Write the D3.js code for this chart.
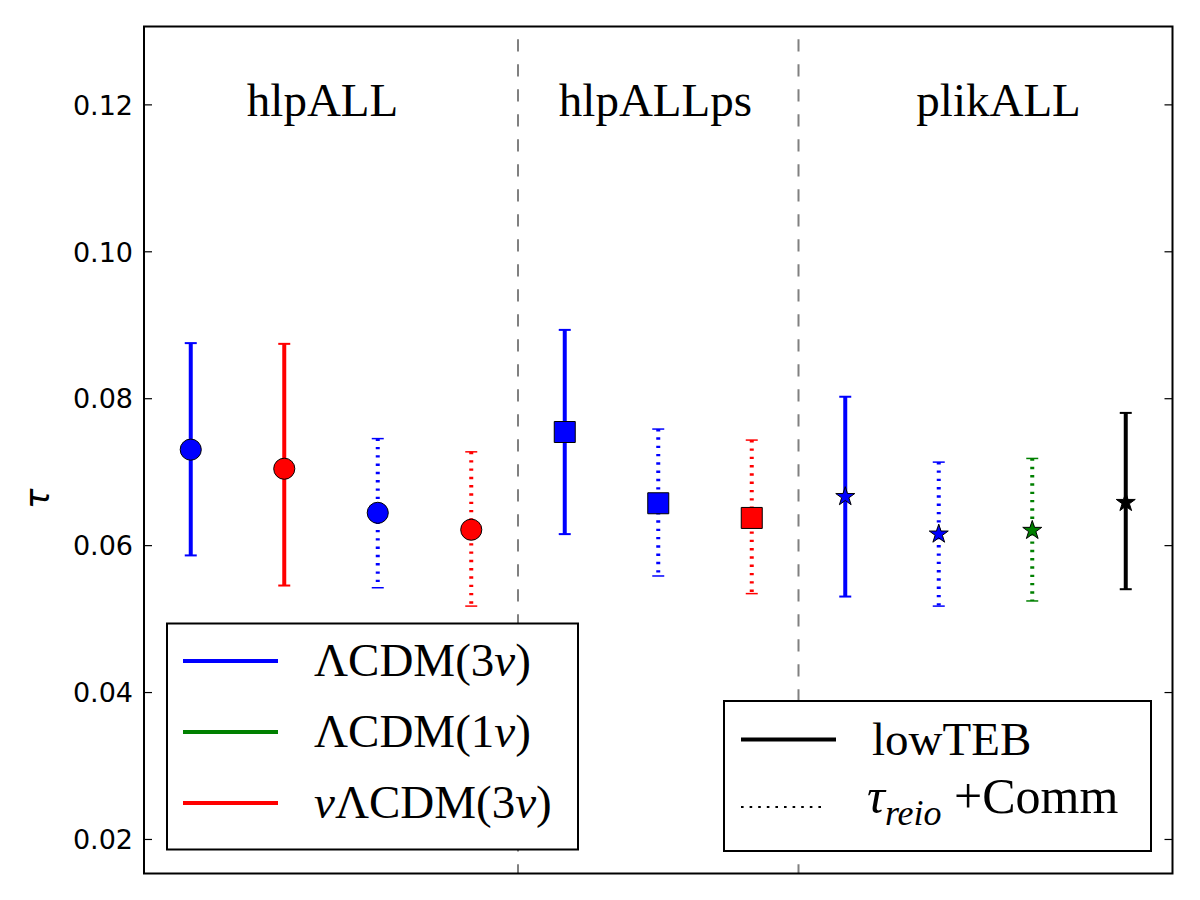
<!DOCTYPE html>
<html>
<head>
<meta charset="utf-8">
<script src="https://d3js.org/d3.v7.min.js"></script>
<style>
  body { margin: 0; background: #fff; }
  svg { display: block; }
</style>
</head>
<body>
<div id="chart"></div>
<script>
// --- data ---
var groups = ["hlpALL", "hlpALLps", "plikALL"];
var groupOf = [0, 0, 0, 0, 1, 1, 1, 2, 2, 2, 2];
var model = ["3nu", "nu3", "3nu", "nu3", "3nu", "3nu", "nu3", "3nu", "3nu", "1nu", "low"];
var likelihood = ["lowTEB", "lowTEB", "Comm", "Comm", "lowTEB", "Comm", "Comm", "lowTEB", "Comm", "Comm", "lowTEB"];
var tau = [0.0730, 0.0704, 0.0644, 0.0621, 0.0754, 0.0657, 0.0637, 0.0666, 0.0615, 0.0620, 0.0658];
var tauHigh = [0.0875, 0.0874, 0.0745, 0.0727, 0.0893, 0.0758, 0.0743, 0.0802, 0.0713, 0.0718, 0.0780];
var tauLow = [0.0586, 0.0545, 0.0542, 0.0517, 0.0615, 0.0558, 0.0534, 0.0530, 0.0517, 0.0524, 0.0540];
var yTicks = [0.02, 0.04, 0.06, 0.08, 0.10, 0.12];

var colors = { "3nu": "#0000ff", "1nu": "#008000", "nu3": "#ff0000", "low": "#000000" };
var markers = [d3.symbolCircle, d3.symbolSquare, d3.symbolStar];
var markerSize = [350, 441, 112];

var margin = { top: 26.5, right: 27.5, bottom: 26.5, left: 144 },
    width = 1200 - margin.left - margin.right,
    height = 900 - margin.top - margin.bottom;

var svg = d3.select("#chart").append("svg")
    .attr("width", 1200)
    .attr("height", 900)
    .append("g")
    .attr("transform", "translate(" + margin.left + "," + margin.top + ")");

var x = d3.scaleLinear().domain([-0.5, 10.5]).range([0, width]);
var y = d3.scaleLinear().domain([0.0153, 0.1306]).range([height, 0]);

var points = tau.map(function (t, i) {
    return { i: i, tau: t, hi: tauHigh[i], lo: tauLow[i], model: model[i],
             lik: likelihood[i], group: groupOf[i] };
});

// group separators
svg.selectAll(".sep")
    .data([3.5, 6.5])
    .enter().append("line")
    .attr("class", "sep")
    .attr("x1", function (d) { return x(d); })
    .attr("x2", function (d) { return x(d); })
    .attr("y1", 0)
    .attr("y2", height)
    .style("stroke", "#808080")
    .style("stroke-width", 2)
    .style("stroke-dasharray", "12.3,12.7")
    .style("stroke-dashoffset", 12.3);

var serif = "'Liberation Serif', 'DejaVu Serif', serif";

// group titles
svg.selectAll(".gtitle")
    .data(groups)
    .enter().append("text")
    .attr("class", "gtitle")
    .attr("x", function (d, i) { return x([1.41, 4.97, 8.64][i]); })
    .attr("y", y(0.1184))
    .attr("text-anchor", "middle")
    .style("font-family", serif)
    .style("font-size", "47px")
    .text(function (d) { return d; });

// error bars
var bars = svg.selectAll(".err")
    .data(points)
    .enter().append("g")
    .attr("class", "err")
    .style("stroke", function (d) { return colors[d.model]; });

bars.append("line")
    .attr("x1", function (d) { return x(d.i); })
    .attr("x2", function (d) { return x(d.i); })
    .attr("y1", function (d) { return y(d.hi); })
    .attr("y2", function (d) { return y(d.lo); })
    .style("stroke-width", 4)
    .style("stroke-dasharray", function (d) { return d.lik == "Comm" ? "2.4,5.9" : null; });

bars.selectAll(".cap")
    .data(function (d) { return [d.hi, d.lo].map(function (v) { return { v: v, p: d }; }); })
    .enter().append("line")
    .attr("class", "cap")
    .attr("x1", function (d) { return x(d.p.i) - 6; })
    .attr("x2", function (d) { return x(d.p.i) + 6; })
    .attr("y1", function (d) { return y(d.v); })
    .attr("y2", function (d) { return y(d.v); })
    .style("stroke-width", function (d) { return d.p.lik == "Comm" ? 1.5 : 2; });

// markers
svg.selectAll(".marker")
    .data(points)
    .enter().append("path")
    .attr("class", "marker")
    .attr("transform", function (d) { return "translate(" + x(d.i) + "," + y(d.tau) + ")"; })
    .attr("d", function (d) { return d3.symbol().type(markers[d.group]).size(markerSize[d.group])(); })
    .style("fill", function (d) { return colors[d.model]; })
    .style("stroke", "#000")
    .style("stroke-width", 1);

// axes (ticks inside, on both sides)
var yAxisL = d3.axisLeft(y).tickValues(yTicks).tickSizeInner(-8).tickSizeOuter(0)
    .tickPadding(11).tickFormat(d3.format(".2f"));
var gy = svg.append("g").attr("class", "y axis").call(yAxisL);
gy.select(".domain").remove();
gy.selectAll("line").style("stroke", "#000").style("stroke-width", 1.2);
gy.selectAll("text")
    .style("font-family", "'DejaVu Sans', sans-serif")
    .style("font-size", "27px")
    .attr("dy", "0.36em");

var yAxisR = d3.axisRight(y).tickValues(yTicks).tickSizeInner(-8).tickSizeOuter(0).tickFormat("");
var gyr = svg.append("g").attr("transform", "translate(" + width + ",0)").call(yAxisR);
gyr.select(".domain").remove();
gyr.selectAll("line").style("stroke", "#000").style("stroke-width", 1.2);

// frame
svg.append("rect")
    .attr("width", width)
    .attr("height", height)
    .style("fill", "none")
    .style("stroke", "#000")
    .style("stroke-width", 2);

// y label
svg.append("text")
    .attr("transform", "translate(" + (39 - margin.left) + "," + y(0.0663) + ") rotate(-90)")
    .attr("text-anchor", "middle")
    .attr("dy", "0.3em")
    .style("font-family", "'DejaVu Sans', sans-serif")
    .style("font-style", "italic")
    .style("font-size", "34px")
    .text("τ");

// legend: models (text pieces, ν in italic)
var modelKeys = ["3nu", "1nu", "nu3"];
var modelLabels = [
    [["ΛCDM(3", 0], ["ν", 1], [")", 0]],
    [["ΛCDM(1", 0], ["ν", 1], [")", 0]],
    [["ν", 1], ["ΛCDM(3", 0], ["ν", 1], [")", 0]]
];
var leg1 = svg.append("g").attr("transform", "translate(" + (167 - margin.left) + "," + (623.5 - margin.top) + ")");
leg1.append("rect").attr("width", 411).attr("height", 226)
    .style("fill", "#fff").style("stroke", "#000").style("stroke-width", 2);
var row1 = leg1.selectAll(".row").data(modelKeys).enter().append("g")
    .attr("transform", function (d, i) { return "translate(0," + (37.5 + i * 71) + ")"; });
row1.append("line").attr("x1", 16).attr("x2", 111)
    .style("stroke", function (d) { return colors[d]; }).style("stroke-width", 4);
row1.append("text").attr("x", 147).attr("y", 15)
    .style("font-family", serif).style("font-size", "47px")
    .selectAll("tspan")
    .data(function (d, i) { return modelLabels[i]; })
    .enter().append("tspan")
    .style("font-style", function (p) { return p[1] ? "italic" : "normal"; })
    .text(function (p) { return p[0]; });

// legend: likelihoods
var leg2 = svg.append("g").attr("transform", "translate(" + (724 - margin.left) + "," + (701 - margin.top) + ")");
leg2.append("rect").attr("width", 427).attr("height", 150)
    .style("fill", "#fff").style("stroke", "#000").style("stroke-width", 2);
leg2.append("line").attr("x1", 17).attr("x2", 112).attr("y1", 38.5).attr("y2", 38.5)
    .style("stroke", "#000").style("stroke-width", 4);
leg2.append("text").attr("x", 148).attr("y", 54)
    .style("font-family", serif).style("font-size", "47px").text("lowTEB");
leg2.append("line").attr("x1", 17).attr("x2", 103).attr("y1", 106).attr("y2", 106)
    .style("stroke", "#000").style("stroke-width", 2).style("stroke-dasharray", "2.6,6");
var t2 = leg2.append("text").attr("x", 143).attr("y", 112)
    .style("font-family", serif).style("font-size", "50px");
t2.append("tspan").style("font-style", "italic").text("τ");
t2.append("tspan").style("font-style", "italic").style("font-size", "36px").attr("dy", 12).text("reio");
t2.append("tspan").attr("dy", -12).text(" +Comm");
</script>
</body>
</html>
